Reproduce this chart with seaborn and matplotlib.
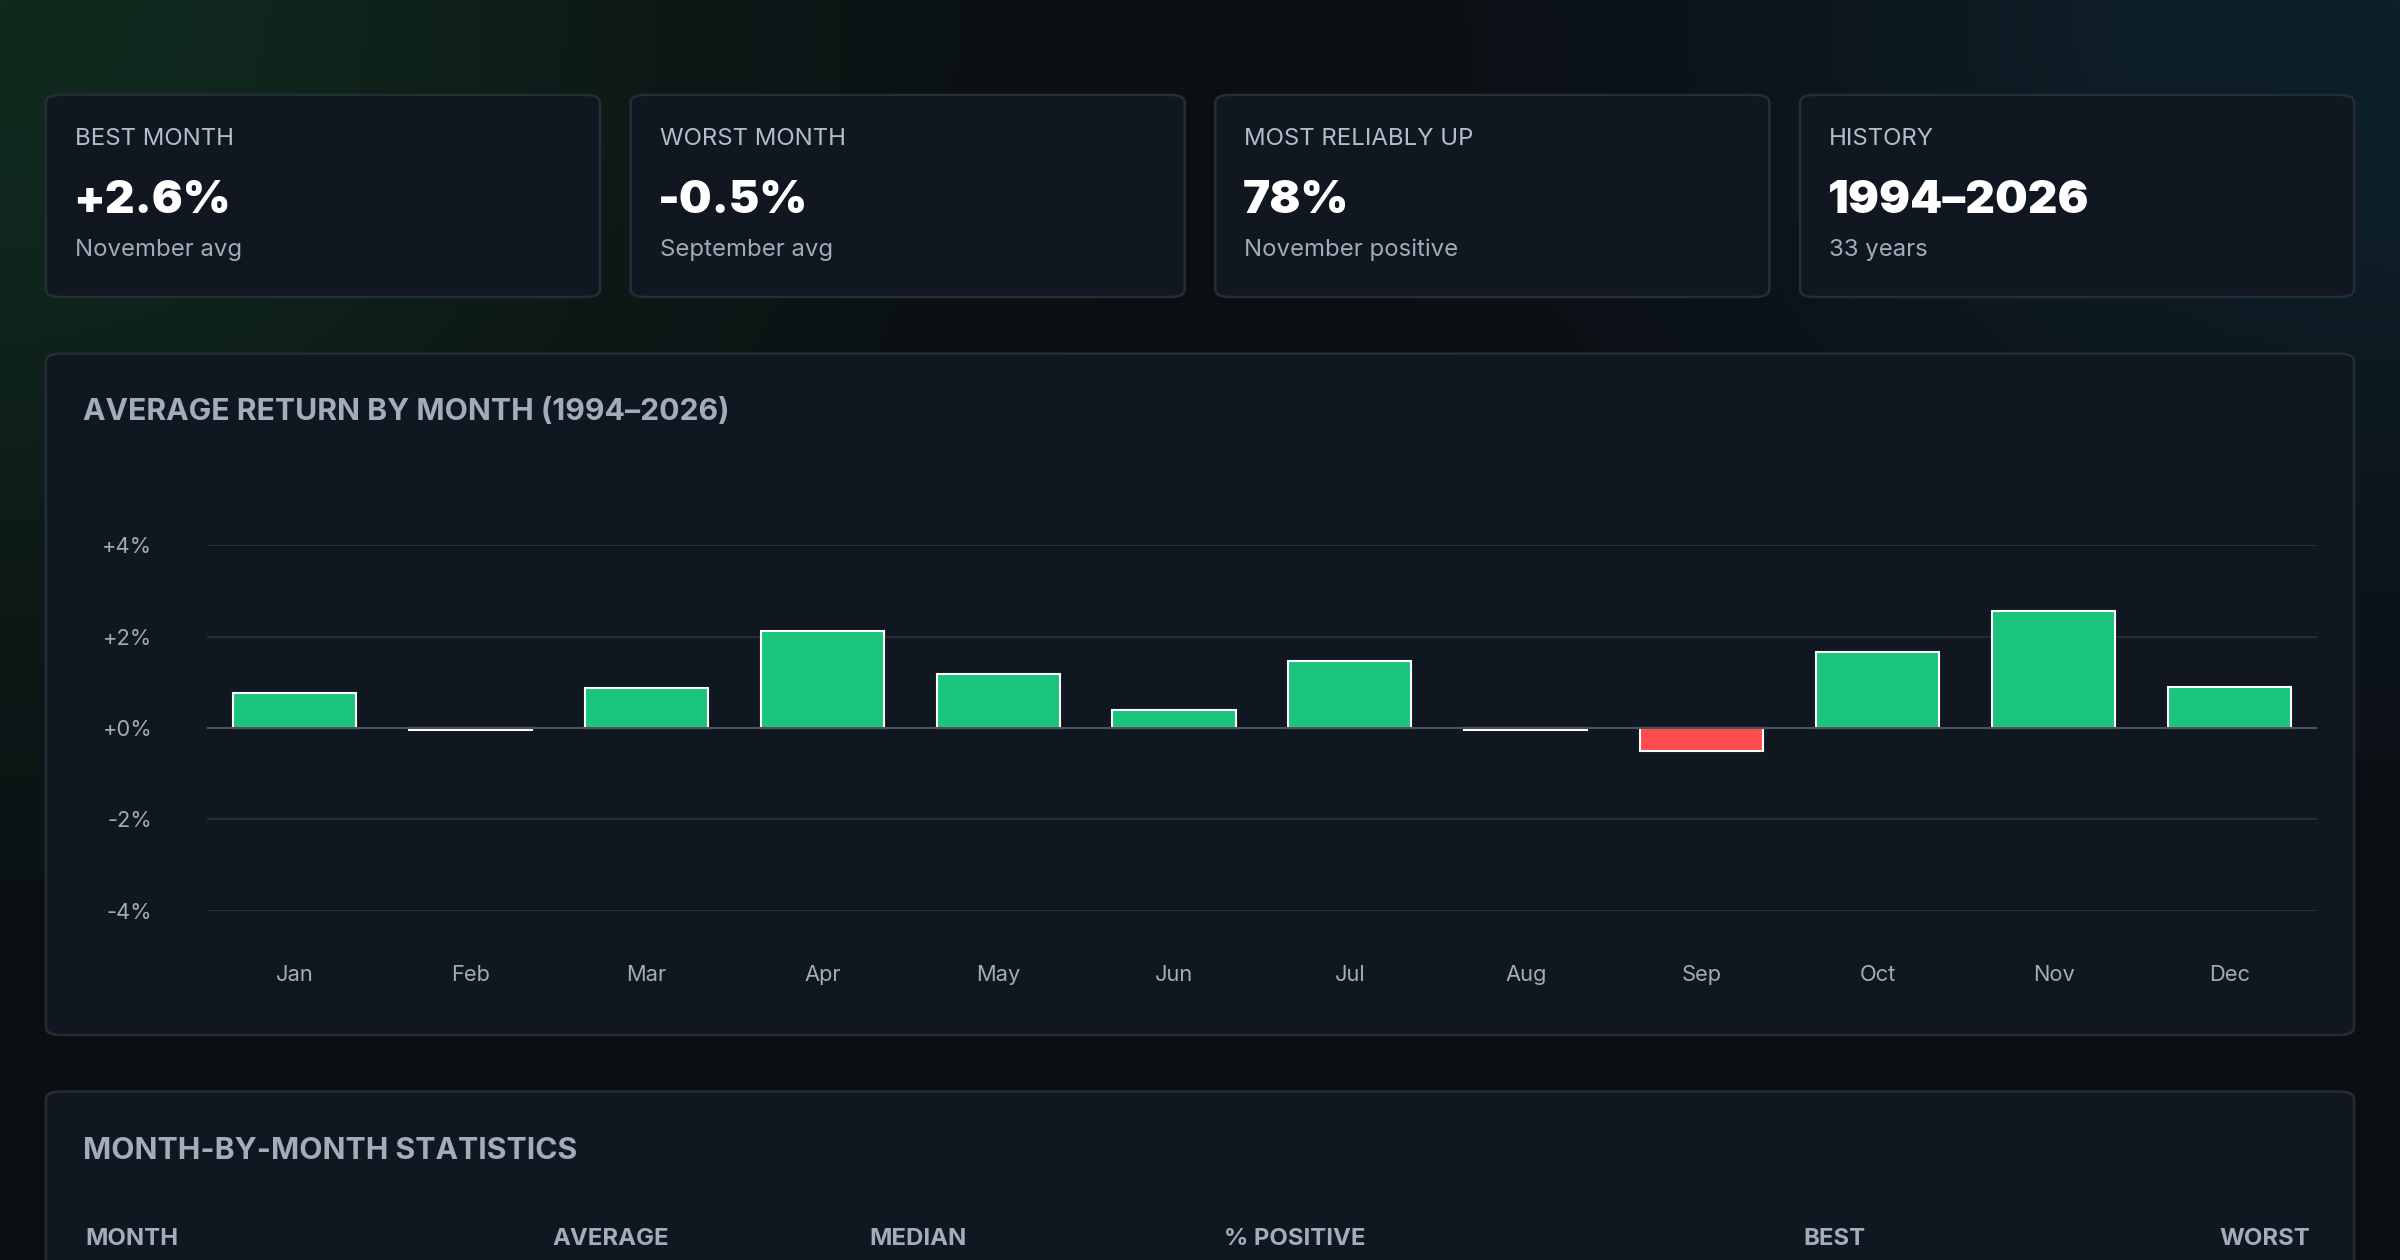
import numpy as np
import pandas as pd
import seaborn as sns
import matplotlib.pyplot as plt
from matplotlib.patches import FancyBboxPatch

months = ["Jan", "Feb", "Mar", "Apr", "May", "Jun", "Jul", "Aug", "Sep", "Oct", "Nov", "Dec"]
avg_return = [0.77, -0.05, 0.87, 2.13, 1.17, 0.40, 1.47, -0.05, -0.50, 1.67, 2.55, 0.90]

card_labels = ["BEST MONTH", "WORST MONTH", "MOST RELIABLY UP", "HISTORY"]
card_values = ["+2.6%", "-0.5%", "78%", "1994\u20132026"]
card_subs = ["November avg", "September avg", "November positive", "33 years"]

table_cols = ["MONTH", "AVERAGE", "MEDIAN", "% POSITIVE", "BEST", "WORST"]

W, H = 1568, 823
BG = "#0b0e12"
PANEL = "#111720"
EDGE = "#262d37"
GREEN = "#1bc47d"
RED = "#ff4d4f"

sns.set_theme(style="dark")
plt.rcParams["font.family"] = ["Inter", "DejaVu Sans"]

fig = plt.figure(figsize=(16, 8.4), dpi=150, facecolor=BG)

# background glow
bg = fig.add_axes([0, 0, 1, 1])
bg.set_zorder(-10)
yy, xx = np.mgrid[0:1:200j, 0:1:380j]
glow_g = np.exp(-((xx - 0.0) ** 2 / 0.08 + (yy - 0.0) ** 2 / 0.25))
glow_b = np.exp(-((xx - 1.0) ** 2 / 0.08 + (yy - 0.0) ** 2 / 0.2))
img = np.zeros(yy.shape + (3,))
base = np.array([11, 14, 18]) / 255
img[:] = base
img += glow_g[..., None] * (np.array([16, 42, 30]) / 255 - base)
img += glow_b[..., None] * (np.array([14, 32, 42]) / 255 - base)
bg.imshow(np.clip(img, 0, 1), extent=[0, 1, 0, 1], aspect="auto", origin="upper")
bg.set_xlim(0, 1)
bg.set_ylim(0, 1)
bg.axis("off")


def fx(x):
    return x / W


def fy(y):
    return 1 - y / H


def panel(x0, y0, x1, y1):
    p = FancyBboxPatch((fx(x0), fy(y1)), fx(x1 - x0), (y1 - y0) / H,
                       boxstyle="round,pad=0,rounding_size=0.006",
                       transform=fig.transFigure, facecolor=PANEL,
                       edgecolor=EDGE, linewidth=1.2, zorder=1)
    fig.patches.append(p)


# stat cards
card_x = [30, 412, 794, 1176]
for x0, lab, val, sub in zip(card_x, card_labels, card_values, card_subs):
    panel(x0, 62, x0 + 362, 194)
    fig.text(fx(x0 + 19), fy(91), lab, color="#b4bcc7", fontsize=11.5,
             va="center", ha="left")
    fig.text(fx(x0 + 18), fy(131), val, color="white", fontsize=22,
             fontweight="black", va="center", ha="left")
    fig.text(fx(x0 + 19), fy(163), sub, color="#a3abb6", fontsize=11.5,
             va="center", ha="left")

# chart panel
panel(30, 231, 1538, 676)
fig.text(fx(54), fy(269), "AVERAGE RETURN BY MONTH (1994\u20132026)",
         color="#a3acb8", fontsize=14.5, fontweight="bold", va="center")

ax = fig.add_axes([fx(135), fy(595), fx(1514 - 135), (595 - 356) / H])
ax.set_zorder(5)
ax.set_facecolor("none")
df = pd.DataFrame({"month": months, "ret": avg_return})
df["sign"] = np.where(df["ret"] >= 0, "pos", "neg")
sns.barplot(data=df, x="month", y="ret", hue="sign",
            palette={"pos": GREEN, "neg": RED}, width=0.7,
            legend=False, ax=ax, zorder=3, saturation=1)
ax.set_ylim(-4, 4)
ax.set_xlim(-0.5, 11.5)
ax.set_yticks([-4, -2, 0, 2, 4])
ax.set_yticklabels(["-4%", "-2%", "+0%", "+2%", "+4%"])
ax.grid(axis="y", color="#262d37", linewidth=1, zorder=0)
ax.grid(axis="x", visible=False)
ax.set_axisbelow(True)
ax.axhline(0, color="#4a525d", linewidth=1, zorder=4)
for s in ax.spines.values():
    s.set_visible(False)
ax.tick_params(axis="y", colors="#a3abb6", labelsize=10.5, length=0, pad=26)
ax.tick_params(axis="x", colors="#a3abb6", labelsize=10.5, length=0, pad=26)
ax.set_xlabel("")
ax.set_ylabel("")

# table panel (cut off at bottom)
panel(30, 713, 1538, 900)
fig.text(fx(54), fy(752), "MONTH-BY-MONTH STATISTICS", color="#a3acb8",
         fontsize=14.5, fontweight="bold", va="center")
col_x = [56, 361, 568, 800, 1178, 1450]
for cx, c in zip(col_x, table_cols):
    fig.text(fx(cx), fy(809), c, color="#a3acb8", fontsize=11.5,
             fontweight="bold", va="center", ha="left")

fig.savefig("out.png", dpi=150, facecolor=BG)
